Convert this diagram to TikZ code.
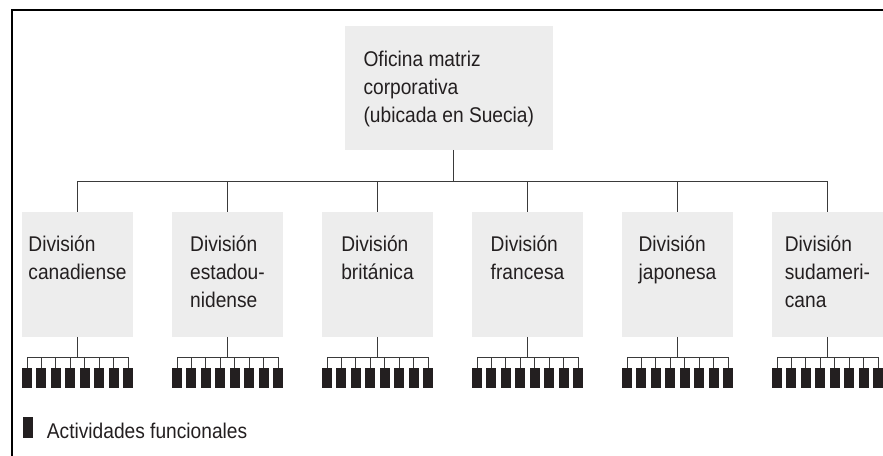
\documentclass[tikz,border=0pt]{standalone}
\usepackage{fontspec}
\setmainfont{Liberation Sans}[FakeStretch=0.9]
\definecolor{boxgray}{HTML}{EDEDED}
\definecolor{ink}{HTML}{231F20}
\definecolor{wire}{HTML}{3A3A3A}
\begin{document}
\begin{tikzpicture}[x=1pt,y=-1pt,
  txt/.style={inner sep=0pt, text=ink, font=\fontsize{21.3}{28}\selectfont, anchor=base},
  topbox/.style={fill=boxgray, draw=none, minimum width=207.7pt, minimum height=123.7pt, inner sep=0pt},
  divbox/.style={fill=boxgray, draw=none, minimum width=111pt, minimum height=124.7pt, inner sep=0pt},
  act/.style={fill=ink, draw=none, minimum width=10pt, minimum height=20pt, inner sep=0pt},
  wireline/.style={draw=wire, line width=1pt},
  frame/.style={draw=black, line width=2.3pt}
]
\useasboundingbox (0,0) rectangle (883,455);
% frame
\draw[frame] (12.2,456) -- (12.2,9.7) -- (884,9.7);

% top box
\node[topbox] (top) at (448.8,87.9) {};
\node[txt] (toptxt) at ([yshift=-40.7pt]top.north) {\begin{tabular}[t]{@{}l@{}}Oficina matriz\\corporativa\\(ubicada en Suecia)\end{tabular}};

% divisions
\foreach \i/\lab in {1/{División\\canadiense},2/{División\\estadou-\\nidense},3/{División\\británica},4/{División\\francesa},5/{División\\japonesa},6/{División\\sudameri-\\cana}}{
  \node[divbox] (d\i) at ({77.5+150*(\i-1)},274.3) {};
  \node[txt] (t\i) at ([yshift=-39.7pt]d\i.north) {\begin{tabular}[t]{@{}l@{}}\lab\end{tabular}};
  \foreach \k in {1,...,8}{
    \node[act] (a\i-\k) at ({77.5+150*(\i-1)-50.5+101*(\k-1)/7},378.3) {};
  }
  \coordinate (j\i) at ([yshift=-20.3pt]d\i.south);
  \draw[wireline] (d\i.south) -- (j\i);
  \draw[wireline] (a\i-1.north) |- (j\i) -| (a\i-8.north);
  \foreach \k in {2,...,7}{
    \draw[wireline] (a\i-\k.north |- j\i) -- (a\i-\k.north);
  }
}

% bus
\coordinate (bus) at (453,181.5);
\draw[wireline] (top.south -| bus) -- (bus);
\draw[wireline] (d1.north) |- (bus) -| (d6.north);
\foreach \i in {2,...,5}{
  \draw[wireline] (d\i.north |- bus) -- (d\i.north);
}

% legend
\node[act, minimum height=21.6pt] (leg) at (28.3,427.5) {};
\node[txt, anchor=base west] (legtxt) at (46.7,438) {Actividades funcionales};
\end{tikzpicture}
\end{document}
